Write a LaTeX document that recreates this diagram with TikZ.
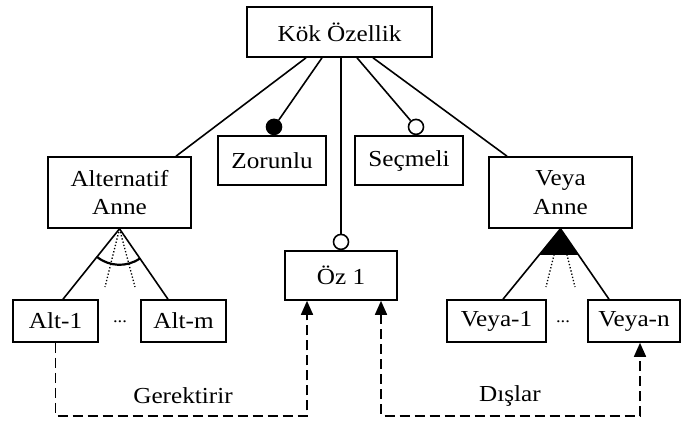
\documentclass[tikz,border=0pt]{standalone}
\usepackage{fontspec}
\setmainfont{Liberation Serif}[FakeStretch=1.1]
\usetikzlibrary{arrows.meta, calc}
\tikzset{>={Triangle[width=12bp,length=14bp]}}
\tikzset{feat/.style={draw, line width=1.6bp, inner sep=0pt, align=center},
  mandc/.style={circle, draw, fill=black, line width=1.6bp, minimum size=15bp, inner sep=0pt},
  optc/.style={circle, draw, fill=white, line width=1.6bp, minimum size=15bp, inner sep=0pt},
  dep/.style={line width=1.6bp, dash pattern=on 10bp off 5bp}}

\begin{document}
\begin{tikzpicture}[x=1bp, y=1bp, line width=1.6bp, font=\fontsize{23}{29}\selectfont]
\useasboundingbox (0,0) rectangle (682,426);
% features
\node[feat, minimum width=185bp, minimum height=50bp] (root) at (339.5,394) {Kök Özellik};
\node[feat, minimum width=143bp, minimum height=71bp] (alt) at (119.5,233.5) {Alternatif\\Anne};
\node[feat, minimum width=108bp, minimum height=49bp] (zor) at (272,265.5) {Zorunlu};
\node[feat, minimum width=108bp, minimum height=49bp] (sec) at (409,265.5) {Seçmeli};
\node[feat, minimum width=143bp, minimum height=71bp] (veya) at (560.5,233.5) {Veya\\Anne};
\node[feat, minimum width=112bp, minimum height=49bp] (oz) at (341,150.5) {Öz 1};
\node[feat, minimum width=85bp, minimum height=42bp] (alta) at (55.5,105) {Alt-1};
\node[feat, minimum width=85bp, minimum height=42bp] (altm) at (183.5,105) {Alt-m};
\node[feat, minimum width=99bp, minimum height=42bp] (veyaa) at (496.5,105) {Veya-1};
\node[feat, minimum width=92bp, minimum height=42bp] (veyan) at (634,105) {Veya-n};
\node[font=\fontsize{17}{17}\selectfont] (altdots) at (120,104) {...};
\node[font=\fontsize{17}{17}\selectfont] (veyadots) at (563,104) {...};

% root links
\node[mandc, anchor=south] (zorc) at ([xshift=2bp]zor.north) {};
\node[optc, anchor=south] (secc) at ([xshift=7bp]sec.north) {};
\node[optc, anchor=south] (ozc) at (oz.north) {};
\draw ([xshift=-33.5bp]root.south) -- ([xshift=56.5bp]alt.north);
\draw ([xshift=-17.5bp]root.south) -- (zorc);
\draw (ozc |- root.south) -- (ozc);
\draw ([xshift=17.5bp]root.south) -- (secc);
\draw ([xshift=33.5bp]root.south) -- ([xshift=-53.5bp]veya.north);

% alternative group
\coordinate (a1) at ([xshift=7.5bp]alta.north);
\coordinate (a2) at ([xshift=-15.5bp]altm.north);
\draw (alt.south) -- (a1);
\draw (alt.south) -- (a2);
\draw[dotted, line width=1.3bp] (alt.south) -- (105,139);
\draw[dotted, line width=1.3bp] (alt.south) -- (135,139);
\draw[line width=2.2bp] (alt.south) ++(231.7:36bp) arc[start angle=231.7, end angle=304.1, radius=36bp];

% or group
\coordinate (v1) at ([xshift=6.5bp]veyaa.north);
\coordinate (v2) at ([xshift=-25bp]veyan.north);
\draw[dotted, line width=1.3bp] (veya.south) -- (546,139);
\draw[dotted, line width=1.3bp] (veya.south) -- (575,139);
\draw (veya.south) -- (v1);
\draw (veya.south) -- (v2);
\fill (veya.south) -- ($(veya.south)!0.37!(v1)$) -- ($(veya.south)!0.37!(v2)$) -- cycle;

% constraints
\draw[dep, ->] (alta.south) -- ++(0,-73) -| ([xshift=-34bp]oz.south);
\draw[dep, <->] ([xshift=40bp]oz.south) -- ++(0,-115) -| ([xshift=6bp]veyan.south);
\node (ger) at (183,30) {Gerektirir};
\node (dis) at (510,30) {Dışlar};
\end{tikzpicture}
\end{document}
